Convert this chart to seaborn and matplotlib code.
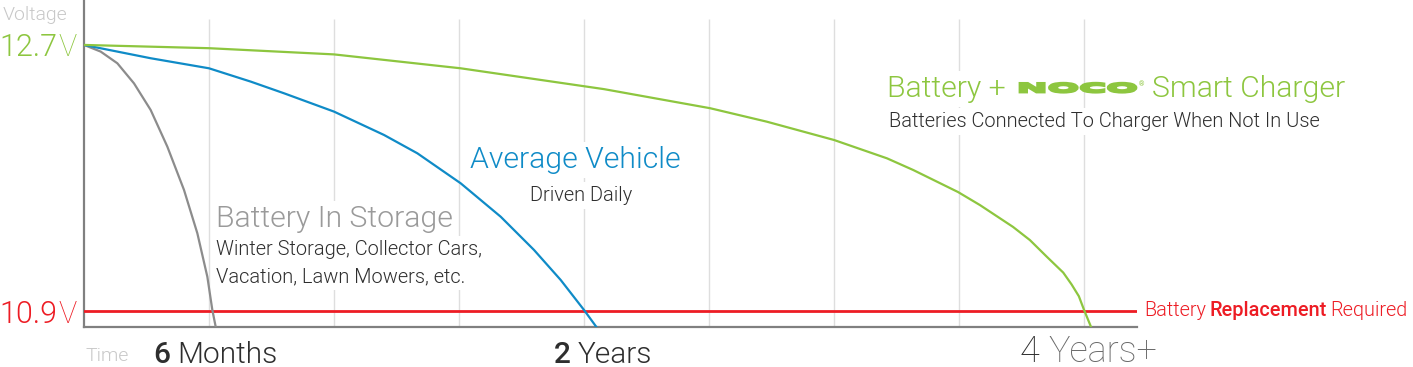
import matplotlib
matplotlib.use("Agg")
import matplotlib.pyplot as plt
import matplotlib.transforms as mtrans
from matplotlib.textpath import TextPath
from matplotlib.patches import PathPatch
from matplotlib.font_manager import FontProperties
import pandas as pd
import seaborn as sns

# ---- data (months since full charge, battery voltage) ----
storage_months = [0.00, 0.80, 1.60, 2.40, 3.20, 4.00, 4.80, 5.44, 5.92, 6.16, 6.32]
storage_volts = [12.700, 12.655, 12.576, 12.440, 12.260, 12.012, 11.719, 11.426, 11.132, 10.907, 10.794]

vehicle_months = [0.00, 1.60, 3.20, 6.00, 8.00, 9.60, 12.00, 14.40, 16.00, 18.08,
                  20.00, 21.60, 22.88, 24.00, 24.64]
vehicle_volts = [12.700, 12.655, 12.610, 12.542, 12.452, 12.373, 12.249, 12.091, 11.967, 11.764,
                 11.538, 11.313, 11.110, 10.907, 10.783]

charger_months = [0.00, 6.00, 12.00, 18.08, 24.96, 30.05, 32.77, 36.00, 38.54, 39.80,
                  41.95, 43.00, 44.59, 45.40, 46.22, 47.00, 47.40, 47.75, 48.00, 48.34]
charger_volts = [12.700, 12.678, 12.636, 12.542, 12.401, 12.272, 12.181, 12.057, 11.933, 11.854,
                 11.705, 11.617, 11.469, 11.380, 11.266, 11.160, 11.080, 11.000, 10.907, 10.790]

full_voltage = 12.7
replace_voltage = 10.9
grid_months = [6, 12, 18, 24, 30, 36, 42, 48]
time_labels = [("6", "Months"), ("2", "Years"), ("4", "Years+")]

GREEN = "#8dc63f"
BLUE = "#0f8bc7"
GRAY = "#8c8c8c"
RED = "#ed1c24"
DARK = "#2e2e2e"
LIGHT = "#c8c8c8"

W, H = 1413, 367

sns.set_theme(style="white")
plt.rcParams["font.family"] = ["Roboto", "DejaVu Sans"]

fig = plt.figure(figsize=(W / 100, H / 100), dpi=100)
ax = fig.add_axes([84 / W, 40 / H, (1137 - 84) / W, 327 / H])
ax.set_xlim(0, 50.54)
ax.set_ylim(10.792, 13.004)

for s in ["top", "right"]:
    ax.spines[s].set_visible(False)
for s in ["left", "bottom"]:
    ax.spines[s].set_color("#808080")
    ax.spines[s].set_linewidth(1.6)
ax.set_xticks([])
ax.set_yticks([])

ax.vlines(grid_months, 10.792, 12.876, color="#dedede", linewidth=1.0, zorder=1)
ax.axhline(replace_voltage, color=RED, linewidth=2.0, zorder=3)

curves = pd.concat([
    pd.DataFrame({"months": storage_months, "volts": storage_volts, "kind": "storage"}),
    pd.DataFrame({"months": vehicle_months, "volts": vehicle_volts, "kind": "vehicle"}),
    pd.DataFrame({"months": charger_months, "volts": charger_volts, "kind": "charger"}),
])
sns.lineplot(data=curves, x="months", y="volts", hue="kind",
             palette={"storage": GRAY, "vehicle": BLUE, "charger": GREEN},
             estimator=None, sort=False, linewidth=1.6, legend=False, ax=ax, zorder=4)
ax.set_xlabel("")
ax.set_ylabel("")

renderer = fig.canvas.get_renderer()


def ftext(x, y, s, box=False, **kw):
    kw.setdefault("va", "baseline")
    if box:
        kw["bbox"] = dict(facecolor="white", edgecolor="none", pad=3)
    return ax.text(x / W, 1 - y / H, s, transform=fig.transFigure, zorder=2, **kw)


def chain(x, y, pieces, gap, center=False):
    """Lay text pieces left to right on one baseline (pixel coords)."""
    texts = []
    cx = x
    for s, kw in pieces:
        t = ftext(cx, y, s, **kw)
        cx += t.get_window_extent(renderer=renderer).width + gap
        texts.append(t)
    if center:
        shift = (cx - gap - x) / 2
        for t in texts:
            px, py = t.get_position()
            t.set_position((px - shift / W, py))
    return texts


yfig = mtrans.blended_transform_factory(fig.transFigure, ax.transData)

# y axis annotations
ftext(3, 20, "Voltage", color=LIGHT, fontsize=14, fontweight=300)
for val, col in [(full_voltage, GREEN), (replace_voltage, RED)]:
    ax.text(57 / W, val, f"{val:.1f}", transform=yfig, ha="right", va="center_baseline",
            color=col, fontsize=22, fontweight=300)
    ax.text(58 / W, val, "V", transform=yfig, ha="left", va="center_baseline",
            color=col, fontsize=22, fontweight=100)

# replacement label
chain(1144, 316, [("Battery", dict(color=RED, fontsize=14.3, fontweight=300)),
                  ("Replacement", dict(color=RED, fontsize=14.3, fontweight=500)),
                  ("Required", dict(color=RED, fontsize=14.3, fontweight=300))], gap=3.5)

# time axis
ftext(85, 361, "Time", color=LIGHT, fontsize=14, fontweight=300)
ends = [storage_months[-1], vehicle_months[-1], charger_months[-1]]
styles = [
    (dict(color=DARK, fontsize=21.5, fontweight=500), dict(color=DARK, fontsize=21.5, fontweight=300), 7, 363, 0),
    (dict(color=DARK, fontsize=21.5, fontweight=500), dict(color=DARK, fontsize=21.5, fontweight=300), 7, 363, 6),
    (dict(color=DARK, fontsize=26, fontweight=100), dict(color="#6a6a6a", fontsize=26, fontweight=100), 9, 362, -3),
]
for (num, word), xe, (p1, p2, gap, base, dx) in zip(time_labels, ends, styles):
    xc = ax.transData.transform((xe, 11.0))[0] + dx
    chain(xc, base, [(num, p1), (word, p2)], gap=gap, center=True)

# curve labels
ftext(216, 227, "Battery In Storage", box=True, color="#9a9a9a", fontsize=21.8, fontweight=300)
ftext(216, 255, "Winter Storage, Collector Cars,", box=True, color=DARK, fontsize=14.4, fontweight=300)
ftext(216, 282, "Vacation, Lawn Mowers, etc.", box=True, color=DARK, fontsize=14.4, fontweight=300)

ftext(470, 168, "Average Vehicle", box=True, color=BLUE, fontsize=21.8, fontweight=300)
ftext(581, 201, "Driven Daily", box=True, ha="center", color=DARK, fontsize=14.4, fontweight=300)

ftext(887, 97, "Battery +", box=True, color=GREEN, fontsize=21.8, fontweight=300)
ftext(1152, 97, "Smart Charger", box=True, color=GREEN, fontsize=21.8, fontweight=300)
ftext(1139, 86, "\u00ae", color=GREEN, fontsize=5)
ftext(889, 127, "Batteries Connected To Charger When Not In Use", box=True, color=DARK,
      fontsize=14.4, fontweight=300)

# NOCO wordmark, stretched wide and heavy
tp = TextPath((0, 0), "NOCO", size=1, prop=FontProperties(family="DejaVu Sans", weight="bold"))
ext = tp.get_extents()
sx = (1136 - 1020) / ext.width
sy = 9.0 / ext.height
tr = (mtrans.Affine2D().translate(-ext.x0, -ext.y0).scale(sx, sy).translate(1020, H - 92.2)
      + mtrans.Affine2D().scale(1 / W, 1 / H) + fig.transFigure)
fig.add_artist(PathPatch(tp, transform=tr, facecolor=GREEN, edgecolor=GREEN,
                         linewidth=2.0, joinstyle="miter", zorder=5))

fig.savefig("out.png", dpi=100)
